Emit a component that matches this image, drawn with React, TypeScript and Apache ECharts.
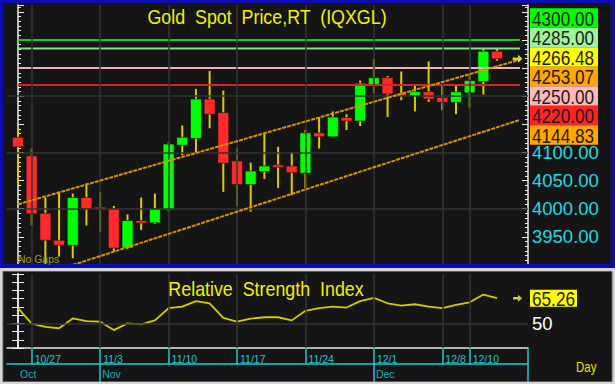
import React, { useEffect, useRef } from 'react';
import * as echarts from 'echarts';

// ---------- data ----------
const dates = [
  '10/24',
  '10/27', '10/28', '10/29', '10/30', '10/31',
  '11/3', '11/4', '11/5', '11/6', '11/7',
  '11/10', '11/11', '11/12', '11/13', '11/14',
  '11/17', '11/18', '11/19', '11/20', '11/21',
  '11/24', '11/25', '11/26', '11/27', '11/28',
  '12/1', '12/2', '12/3', '12/4', '12/5',
  '12/8', '12/9', '12/10', '12/11', '12/12',
];
const openP = [4127, 4094, 3992, 3944, 3935, 4020, 4003, 4000, 3930, 3979, 3975, 3998, 4113, 4125, 4195, 4171, 4085, 4043, 4066, 4078, 4076, 4063, 4135, 4128, 4162, 4156, 4221, 4233, 4205, 4201, 4208, 4198, 4189, 4206, 4226, 4280];
const closeP = [4110, 3991, 3944, 3935, 4020, 4000, 3998, 3930, 3979, 3975, 4000, 4115, 4127, 4195, 4168, 4081, 4043, 4067, 4076, 4075, 4064, 4135, 4128, 4163, 4156, 4223, 4233, 4204, 4201, 4208, 4195, 4189, 4208, 4228, 4280, 4266.48];
const lowP = [4042, 3970, 3895, 3915, 3912, 3970, 3959, 3924, 3928, 3962, 3973, 3995, 4095, 4100, 4143, 4030, 4005, 3995, 4053, 4037, 4024, 4036, 4107, 4128, 4140, 4147, 4205, 4163, 4193, 4173, 4190, 4175, 4168, 4180, 4203, 4263];
const highP = [4146, 4107, 4020, 4030, 4027, 4045, 4030, 4005, 3990, 4020, 4027, 4118, 4148, 4213, 4245, 4210, 4107, 4082, 4135, 4110, 4100, 4140, 4162, 4173, 4168, 4228, 4266, 4236, 4244, 4219, 4262, 4219, 4219, 4238, 4284, 4284];
const rsi = [59.2, 49.8, 47.8, 47, 53, 51.4, 51, 45.9, 50, 49.4, 51.8, 59.2, 60.2, 63.5, 62.2, 53.3, 51, 52.9, 53.7, 53.7, 51.8, 57.6, 59.2, 60.2, 59.6, 63.5, 65.5, 62.2, 60.8, 61.6, 60.2, 59.2, 61.2, 62.8, 67.5, 65.26];

const dateTickLabels = ['10/27', '11/3', '11/10', '11/17', '11/24', '12/1', '12/8', '12/10'];
const monthNames = ['Oct', 'Nov', 'Dec'];
const monthPrefixes = ['10/', '11/', '12/'];

const levelValues = [4300, 4285, 4250, 4220];
const levelColors = ['#12d012', '#86e086', '#f0b4b4', '#d82424'];
const levelEnd = 36.67;

const upperChannel = [[0, 4008], [36.67, 4265]];
const lowerChannel = [[4, 3900], [36.67, 4158]];

const lastPrice = 4266.48;
const priceBoxLabels = ['4300.00', '4285.00', '4266.48', '4253.07', '4250.00', '4220.00', '4144.83'];
const priceBoxColors = ['#00ff00', '#9cf49c', '#ffff00', '#ffa600', '#ffb8b8', '#ff2424', '#ffa600'];
const priceAxisLabels = [3950, 4000, 4050, 4100];
const priceGridValues = [4000, 4100, 4200];

const rsiLast = 65.26;
const rsiAxisLabels = [50];
const rsiGridValues = [50];

// ---------- layout ----------
const X_MIN = -0.804;
const X_MAX = 37.26;
const P_MIN = 3900;
const P_MAX = 4362.2;
const R_MIN = 35;
const R_MAX = 80;
const G0 = { left: 7, top: 5, width: 521, height: 260 };
const G1 = { left: 7, top: 274, width: 521, height: 74 };
const SANS = "'Liberation Sans', Arial, sans-serif";
const CYAN = '#22c8d2';
const ARROW = 'path://M0,3 L6,3 L6,0 L11,4.5 L6,9 L6,6 L0,6 Z';

export default function App() {
  const ref = useRef<HTMLDivElement>(null);
  useEffect(() => {
    if (!ref.current) return;
    const chart = echarts.init(ref.current, null, { renderer: 'svg' });

    const tickIdx = dateTickLabels.map((d) => dates.indexOf(d));
    const monthIdx = monthPrefixes.map((p) => dates.findIndex((d) => d.startsWith(p)));
    const monthTickIdx = monthIdx.slice(1);

    const candleData = dates.map((_, i) => [i, openP[i], closeP[i], lowP[i], highP[i]]);

    const rsiY = G1.top + ((R_MAX - rsiLast) / (R_MAX - R_MIN)) * G1.height;

    const whiteAxis = (pos: string, grid: number, min: number, max: number, interval: number, minor: number) => ({
      gridIndex: grid,
      type: 'value',
      position: pos,
      min,
      max,
      interval,
      axisLine: { show: true, lineStyle: { color: '#eeeeee', width: 1.5 } },
      axisTick: { show: true, inside: true, length: 6, lineStyle: { color: '#eeeeee', width: 1 } },
      minorTick: { show: true, splitNumber: minor, length: 3, lineStyle: { color: '#eeeeee', width: 1 } },
      splitLine: { show: false },
    });

    const graphics: any[] = [
      { type: 'rect', z: -5, shape: { x: 0, y: 0, width: 615, height: 268 }, style: { fill: '#0c0cb4' } },
      { type: 'rect', z: -4, shape: { x: 3, y: 3, width: 608, height: 261 }, style: { fill: '#151515' } },
      { type: 'rect', z: 60, shape: { x: 0, y: 264, width: 615, height: 4 }, style: { fill: '#0c0cb4' } },
      { type: 'rect', z: -5, shape: { x: 3, y: 271.5, width: 609, height: 110 }, style: { fill: '#151515', stroke: '#5a5a5a', lineWidth: 1 } },
      {
        type: 'text', z: 60, x: 267, y: 16, scaleX: 0.85,
        style: { text: 'Gold  Spot  Price,RT  (IQXGL)', fill: '#f2f200', fontSize: 21, fontFamily: SANS, textAlign: 'center', textVerticalAlign: 'middle' },
      },
      {
        type: 'text', z: 60, x: 266, y: 288, scaleX: 0.85,
        style: { text: 'Relative  Strength  Index', fill: '#f2f200', fontSize: 21, fontFamily: SANS, textAlign: 'center', textVerticalAlign: 'middle' },
      },
      {
        type: 'text', z: 60, x: 18, y: 259, scaleX: 0.95,
        style: { text: 'No Gaps', fill: '#a4a400', fontSize: 11, fontFamily: SANS, textAlign: 'left', textVerticalAlign: 'middle' },
      },
      {
        type: 'text', z: 60, x: 576, y: 367, scaleX: 0.82,
        style: { text: 'Day', fill: '#e6e600', fontSize: 14, fontFamily: SANS, textAlign: 'left', textVerticalAlign: 'middle' },
      },
      { type: 'line', z: 60, shape: { x1: 528, y1: 348, x2: 528, y2: 382 }, style: { stroke: CYAN, lineWidth: 1.5 } },
      { type: 'rect', z: 60, shape: { x: 530, y: rsiY - 8.5, width: 47, height: 17 }, style: { fill: '#ffff00' } },
      {
        type: 'text', z: 61, x: 532, y: rsiY + 0.5, scaleX: 0.86,
        style: { text: rsiLast.toFixed(2), fill: '#1c1c1c', fontSize: 20, fontFamily: SANS, textAlign: 'left', textVerticalAlign: 'middle' },
      },
    ];
    priceBoxLabels.forEach((t, i) => {
      const y = 8.3 + i * 19.5;
      graphics.push({ type: 'rect', z: 60, shape: { x: 530, y, width: 68, height: 19.5 }, style: { fill: priceBoxColors[i] } });
      graphics.push({
        type: 'text', z: 61, x: 532, y: y + 10.3, scaleX: 0.86,
        style: { text: t, fill: '#1c1c1c', fontSize: 20, fontFamily: SANS, textAlign: 'left', textVerticalAlign: 'middle' },
      });
    });

    const option: any = {
      animation: false,
      backgroundColor: '#d6d6d6',
      grid: [
        { ...G0, containLabel: false },
        { ...G1, containLabel: false },
      ],
      xAxis: [
        { gridIndex: 0, type: 'value', min: X_MIN, max: X_MAX, show: false },
        {
          gridIndex: 1, type: 'value', min: X_MIN, max: X_MAX, position: 'bottom',
          axisLine: { show: true, lineStyle: { color: '#e8e8e8', width: 1.5 } },
          axisTick: { show: true, customValues: tickIdx, length: 16, lineStyle: { color: CYAN, width: 1.5 } },
          axisLabel: {
            show: true, customValues: tickIdx, formatter: (v: number) => dates[Math.round(v)],
            align: 'left', padding: [0, 0, 0, 3], margin: 5, color: CYAN, fontSize: 10.5, fontFamily: SANS,
          },
          splitLine: { show: false },
        },
        {
          gridIndex: 1, type: 'value', min: X_MIN, max: X_MAX, position: 'bottom', offset: 16,
          axisLine: { show: true, lineStyle: { color: CYAN, width: 1.5 } },
          axisTick: { show: true, customValues: monthTickIdx, length: 18, lineStyle: { color: CYAN, width: 1.5 } },
          axisLabel: {
            show: true, customValues: monthIdx, formatter: (v: number) => monthNames[monthIdx.indexOf(Math.round(v))],
            align: 'left', padding: [0, 0, 0, 2], margin: 4, color: '#1cb0b0', fontSize: 10.5, fontFamily: SANS,
          },
          splitLine: { show: false },
        },
      ],
      yAxis: [
        { ...whiteAxis('left', 0, P_MIN, P_MAX, 50, 6), axisLabel: { show: false } },
        {
          ...whiteAxis('right', 0, P_MIN, P_MAX, 50, 6),
          axisLabel: {
            show: true, margin: 4, color: '#22dae4', fontSize: 18.5, fontFamily: SANS,
            formatter: (v: number) => (priceAxisLabels.includes(v) ? v.toFixed(2) : ''),
          },
        },
        { ...whiteAxis('left', 1, R_MIN, R_MAX, 5, 1), minorTick: { show: false }, axisLabel: { show: false } },
        {
          ...whiteAxis('right', 1, R_MIN, R_MAX, 5, 1), minorTick: { show: false },
          axisLabel: {
            show: true, margin: 4, color: '#ffffff', fontSize: 18.5, fontFamily: SANS,
            formatter: (v: number) => (rsiAxisLabels.includes(v) ? String(v) : ''),
          },
        },
      ],
      graphic: { elements: graphics },
      series: [
        {
          name: 'grid0', type: 'line', xAxisIndex: 0, yAxisIndex: 0, z: 1,
          data: [[X_MIN, 4000]], symbol: 'none', lineStyle: { opacity: 0 }, silent: true,
          markLine: {
            silent: true, symbol: 'none', label: { show: false },
            lineStyle: { color: '#333333', width: 1.5, type: 'solid' },
            data: [...tickIdx.map((i) => ({ xAxis: i })), ...priceGridValues.map((v) => ({ yAxis: v }))],
          },
        },
        {
          name: 'grid1', type: 'line', xAxisIndex: 1, yAxisIndex: 2, z: 1,
          data: [[X_MIN, 50]], symbol: 'none', lineStyle: { opacity: 0 }, silent: true,
          markLine: {
            silent: true, symbol: 'none', label: { show: false },
            lineStyle: { color: '#333333', width: 1.5, type: 'solid' },
            data: [...tickIdx.map((i) => ({ xAxis: i })), ...rsiGridValues.map((v) => ({ yAxis: v }))],
          },
        },
        {
          name: 'candles', type: 'custom', xAxisIndex: 0, yAxisIndex: 0, z: 3, clip: true,
          data: candleData,
          encode: { x: 0, y: [1, 2, 3, 4] },
          renderItem: (params: any, api: any) => {
            const i = api.value(0);
            const o = api.value(1);
            const c = api.value(2);
            const l = api.value(3);
            const h = api.value(4);
            const pO = api.coord([i, o]);
            const pC = api.coord([i, c]);
            const pL = api.coord([i, l]);
            const pH = api.coord([i, h]);
            const w = api.size([1, 0])[0] * 0.8;
            const up = c >= o;
            const top = Math.min(pO[1], pC[1]);
            let ht = Math.abs(pO[1] - pC[1]);
            if (ht < 2.5) ht = 2.5;
            return {
              type: 'group',
              children: [
                { type: 'line', shape: { x1: pH[0], y1: pH[1], x2: pL[0], y2: pL[1] }, style: { stroke: '#dccc00', lineWidth: 2 } },
                { type: 'rect', shape: { x: pO[0] - w / 2, y: top, width: w, height: ht }, style: { fill: up ? '#00ff00' : '#ff2a2a', stroke: '#101010', lineWidth: 0.6 } },
              ],
            };
          },
        },
        ...levelValues.map((v, k) => ({
          name: 'level' + v, type: 'line', xAxisIndex: 0, yAxisIndex: 0, z: 4,
          data: [[0, v], [levelEnd, v]], symbol: 'none', silent: true,
          lineStyle: { color: levelColors[k], width: 2 },
        })),
        {
          name: 'upper', type: 'line', xAxisIndex: 0, yAxisIndex: 0, z: 5, clip: true,
          data: upperChannel, symbol: 'none', silent: true,
          lineStyle: { color: '#d89400', width: 2, type: [4, 1] },
        },
        {
          name: 'lower', type: 'line', xAxisIndex: 0, yAxisIndex: 0, z: 5, clip: true,
          data: lowerChannel, symbol: 'none', silent: true,
          lineStyle: { color: '#d89400', width: 2, type: [4, 1] },
        },
        {
          name: 'lastPrice', type: 'scatter', xAxisIndex: 0, yAxisIndex: 0, z: 6,
          data: [[36.5, lastPrice]], symbol: ARROW, symbolSize: [10, 8], itemStyle: { color: '#ffff30' }, silent: true,
        },
        {
          name: 'RSI', type: 'line', xAxisIndex: 1, yAxisIndex: 2, z: 3,
          data: rsi.map((v, i) => [i, v]), symbol: 'none', silent: true,
          lineStyle: { color: '#d4cc00', width: 1.8 },
        },
        {
          name: 'rsiLast', type: 'scatter', xAxisIndex: 1, yAxisIndex: 2, z: 6,
          data: [[36.5, rsiLast]], symbol: ARROW, symbolSize: [9, 7], itemStyle: { color: '#ffff30' }, silent: true,
        },
      ],
    };
    chart.setOption(option);
    return () => chart.dispose();
  }, []);

  return <div ref={ref} style={{ position: 'fixed', left: 0, top: 0, width: 615, height: 384 }} />;
}
